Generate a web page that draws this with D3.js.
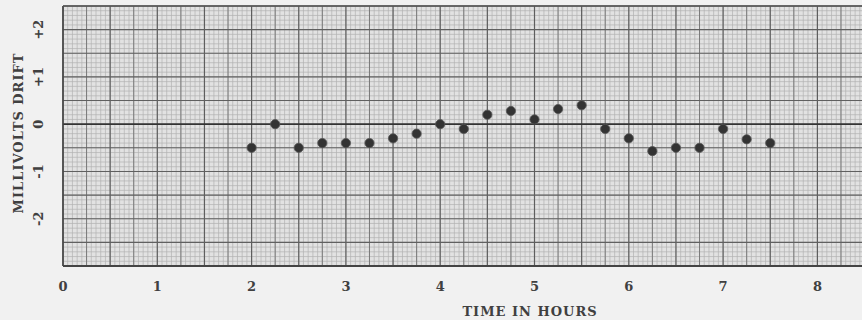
<!DOCTYPE html>
<html>
<head>
<meta charset="utf-8">
<script src="https://cdn.jsdelivr.net/npm/d3@7"></script>
<style>
  body { margin: 0; background: #f1f1f1; }
  text { font-family: "DejaVu Serif", "Liberation Serif", serif; fill: #404040; }
</style>
</head>
<body>
<div id="chart"></div>
<script>
// hours since start
const hours = [2, 2.25, 2.5, 2.75, 3, 3.25, 3.5, 3.75, 4, 4.25, 4.5, 4.75,
  5, 5.25, 5.5, 5.75, 6, 6.25, 6.5, 6.75, 7, 7.25, 7.5];
// drift in millivolts
const drift = [-0.5, 0, -0.5, -0.4, -0.4, -0.4, -0.3, -0.2, 0, -0.1, 0.2, 0.28,
  0.1, 0.32, 0.4, -0.1, -0.3, -0.57, -0.5, -0.5, -0.1, -0.32, -0.4];

const xTicks = [0, 1, 2, 3, 4, 5, 6, 7, 8];
const yTicks = [-2, -1, 0, 1, 2];
const yTickLabels = ["-2", "-1", "0", "+1", "+2"];

const width = 862, height = 320;
const margin = {top: 6, right: 0, bottom: 54, left: 63};

const svg = d3.select("#chart").append("svg")
  .attr("width", width)
  .attr("height", height);

// set the ranges
const x = d3.scaleLinear().domain([0, 8.5]).range([margin.left, margin.left + 8.5 * 94.3]);
const y = d3.scaleLinear().domain([-3, 2.5]).range([height - margin.bottom, margin.top]);

const x0 = x(0), x1 = width, y0 = y(2.5), y1 = y(-3);

// paper background
svg.append("rect")
  .attr("x", x0 - 1).attr("y", y0)
  .attr("width", x1 - x0 + 1).attr("height", y1 - y0)
  .attr("fill", "#e2e2e2");

const grid = svg.append("g");

// fine grid
const fineX = d3.range(0, 8.5001, 0.05);
const fineY = d3.range(-3, 2.5001, 0.1);
grid.selectAll(".fx").data(fineX).enter().append("line")
  .attr("x1", d => x(d)).attr("x2", d => x(d))
  .attr("y1", y0).attr("y2", y1)
  .attr("stroke", "#b2b2b2").attr("stroke-width", 0.7);
grid.selectAll(".fy").data(fineY).enter().append("line")
  .attr("x1", x0).attr("x2", x1)
  .attr("y1", d => y(d)).attr("y2", d => y(d))
  .attr("stroke", "#b2b2b2").attr("stroke-width", 0.7);

// heavy grid: every quarter hour / half millivolt
const majX = d3.range(0, 8.5001, 0.25);
const majY = d3.range(-3, 2.5001, 0.5);
grid.selectAll(".mx").data(majX).enter().append("line")
  .attr("x1", d => x(d)).attr("x2", d => x(d))
  .attr("y1", y0).attr("y2", y1)
  .attr("stroke", d => (Math.round(d * 4) % 2 === 0) ? "#5e5e5e" : "#7a7a7a")
  .attr("stroke-width", d => (Math.round(d * 4) % 2 === 0) ? 1.2 : 1);
grid.selectAll(".my").data(majY).enter().append("line")
  .attr("x1", x0).attr("x2", x1)
  .attr("y1", d => y(d)).attr("y2", d => y(d))
  .attr("stroke", d => d === 0 ? "#333" : "#606060")
  .attr("stroke-width", d => d === 0 ? 1.8 : 1.1);

// frame
svg.append("line").attr("x1", x0).attr("x2", x0).attr("y1", y0).attr("y2", y1)
  .attr("stroke", "#444").attr("stroke-width", 1.5);
svg.append("line").attr("x1", x0).attr("x2", x1).attr("y1", y1).attr("y2", y1)
  .attr("stroke", "#444").attr("stroke-width", 1.8);
svg.append("line").attr("x1", x0).attr("x2", x1).attr("y1", y0).attr("y2", y0)
  .attr("stroke", "#555").attr("stroke-width", 1.3);

// x tick labels
svg.selectAll(".xt").data(xTicks).enter().append("text")
  .attr("x", d => x(d)).attr("y", 291)
  .attr("text-anchor", "middle")
  .attr("font-size", 13).attr("font-weight", "bold")
  .text(d => d);

// y tick labels (rotated)
svg.selectAll(".yt").data(yTicks).enter().append("text")
  .attr("transform", (d, i) => "translate(43," + y(d) + ") rotate(-90)")
  .attr("text-anchor", "middle")
  .attr("font-size", 13).attr("font-weight", "bold")
  .text((d, i) => yTickLabels[i]);

// axis titles
svg.append("text")
  .attr("x", 530).attr("y", 316)
  .attr("text-anchor", "middle")
  .attr("font-size", 13).attr("font-weight", "bold")
  .attr("letter-spacing", 1)
  .text("TIME IN HOURS");

svg.append("text")
  .attr("transform", "translate(23,133) rotate(-90)")
  .attr("text-anchor", "middle")
  .attr("font-size", 13).attr("font-weight", "bold")
  .attr("letter-spacing", 1)
  .text("MILLIVOLTS DRIFT");

// data points
svg.selectAll(".pt").data(hours).enter().append("circle")
  .attr("cx", d => x(d))
  .attr("cy", (d, i) => y(drift[i]))
  .attr("r", 4.6)
  .attr("fill", "#333")
  .attr("stroke", "#555").attr("stroke-width", 0.8);
</script>
</body>
</html>
